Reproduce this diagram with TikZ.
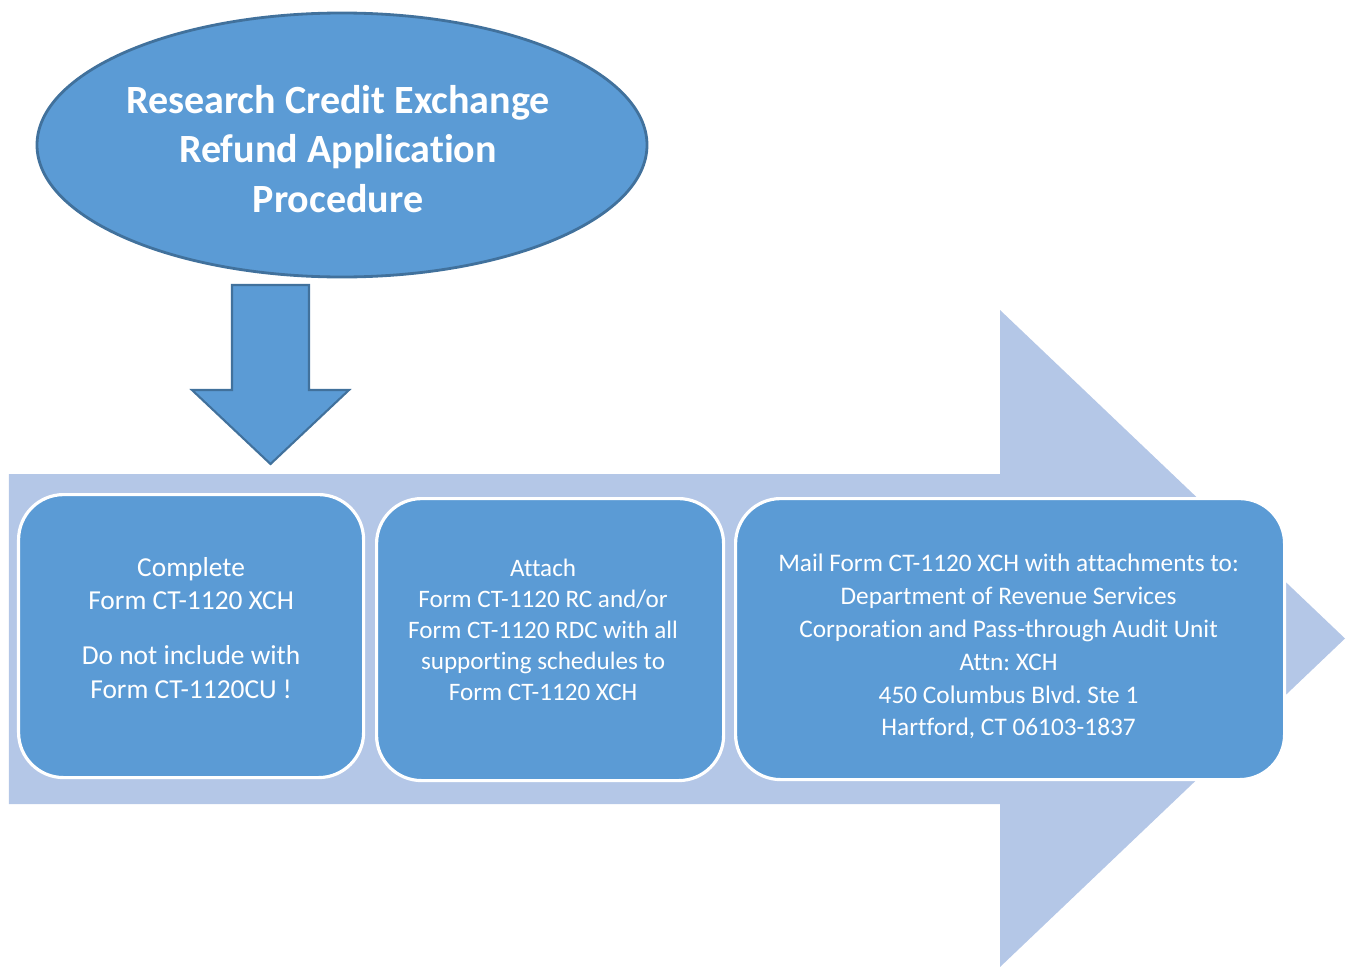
\documentclass[tikz,border=0pt]{standalone}
\usepackage{fontspec}
\setmainfont{Carlito}[Ligatures=NoCommon]
\usetikzlibrary{shapes.geometric}
\definecolor{boxblue}{RGB}{91,155,213}
\definecolor{edgeblue}{RGB}{65,113,156}
\definecolor{paleblue}{RGB}{180,199,231}
\tikzset{
	stepbox/.style={draw=white, line width=0.9pt, fill=boxblue, rounded corners=0.45cm,
		anchor=north west, inner sep=0pt},
	steptext/.style={text=white, align=center, inner sep=0pt},
	blockarrow/.style={fill=boxblue, draw=edgeblue, line width=0.6pt},
}

\begin{document}
\frenchspacing
\begin{tikzpicture}
	%%%%% START %%%%%
	\useasboundingbox (0, 0) rectangle (13.48, -9.67);
	
	% the big pale arrow behind the steps
	\fill[paleblue] (0.09, -4.74) -- (10.00, -4.74) -- (10.00, -3.10) -- (13.45, -6.385)
		-- (10.00, -9.67) -- (10.00, -8.04) -- (0.09, -8.04) -- cycle;
	
	% title
	\node[ellipse, draw=edgeblue, line width=0.8pt, fill=boxblue, minimum width=6.1cm,
		minimum height=2.64cm] (title) at (3.42, -1.45) {};
	\node[steptext, font=\fontsize{11.4}{14.2}\selectfont\bfseries] (titletext)
		at ([xshift=-0.04cm, yshift=-0.04cm]title.center) {Research Credit Exchange\\Refund Application\\Procedure};
	
	\draw[blockarrow] (2.32, -2.85) -- (3.09, -2.85) -- (3.09, -3.90) -- (3.49, -3.90)
		-- (2.705, -4.64) -- (1.92, -3.90) -- (2.32, -3.90) -- cycle;
	
	% steps
	\node[stepbox, minimum width=3.45cm, minimum height=2.83cm] (complete) at (0.17, -4.93) {};
	\node[steptext, font=\fontsize{7.8}{9.67}\selectfont] (completetext)
		at ([yshift=0.085cm]complete.center)
		{Complete\\Form CT-1120 XCH\\[5.7pt]Do not include with\\Form CT-1120CU !};
	
	\node[stepbox, minimum width=3.47cm, minimum height=2.82cm] (attach) at (3.75, -4.97) {};
	\node[steptext, font=\fontsize{7.15}{8.85}\selectfont] (attachtext)
		at ([xshift=-0.07cm, yshift=0.1cm]attach.center)
		{Attach\\Form CT-1120 RC and/or\\Form CT-1120 RDC with all\\supporting schedules to\\Form CT-1120 XCH};
	
	\node[stepbox, minimum width=5.49cm, minimum height=2.81cm] (mail) at (7.34, -4.97) {};
	\node[steptext, font=\fontsize{7.2}{9.35}\selectfont] (mailtext)
		at ([xshift=-0.015cm, yshift=-0.075cm]mail.center)
		{Mail Form CT-1120 XCH with attachments to:\\Department of Revenue Services\\Corporation and Pass-through Audit Unit\\Attn: XCH\\450 Columbus Blvd. Ste 1\\Hartford, CT 06103-1837};
	
	%%%%% END %%%%%
\end{tikzpicture}
\end{document}
